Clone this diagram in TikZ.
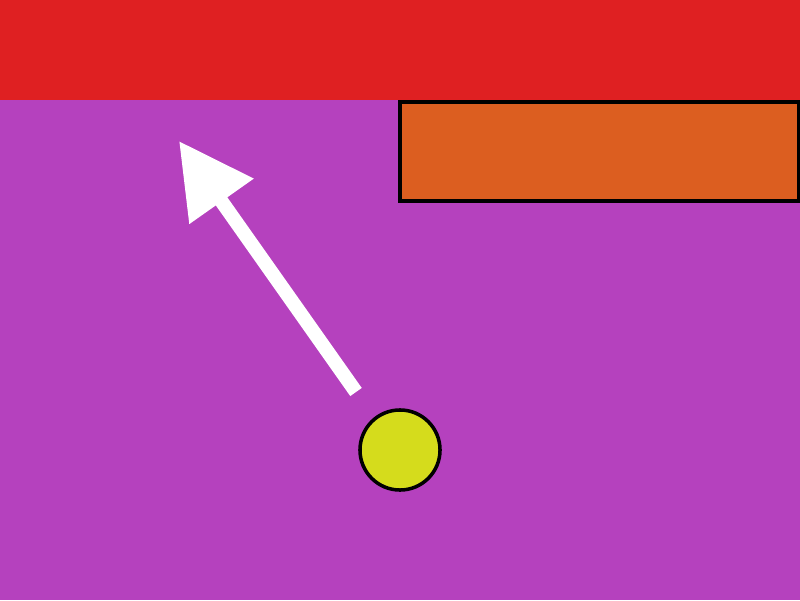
\documentclass[tikz,border=0pt]{standalone}
\usepackage{tikz}
\usetikzlibrary{arrows.meta, positioning}

\definecolor{bgpurple}{RGB}{181,65,190}
\definecolor{topred}{RGB}{223,32,34}
\definecolor{boxorange}{RGB}{220,94,32}
\definecolor{ballyellow}{RGB}{213,220,28}

\begin{document}
\begin{tikzpicture}[x=0.01cm, y=-0.01cm, >={Triangle[length=21pt, width=21.3pt]}]
                \useasboundingbox (0,0) rectangle (800,600);
                \fill[bgpurple] (0,0) rectangle (800,600);
                \fill[topred] (0,0) rectangle (800,100);
                \draw[black, line width=0.9pt, fill=boxorange] (400,102) rectangle (798.5,201);
                
                \node[circle, draw=black, line width=1pt, fill=ballyellow, minimum size=0.8cm, inner sep=0pt] (ball) at (400,450) {};
                
                \coordinate (tail) at (356,392);
                \coordinate (tip) at (179,141);
                \draw[->, white, line width=4pt] (tail) -- (tip);
            \end{tikzpicture}
\end{document}
